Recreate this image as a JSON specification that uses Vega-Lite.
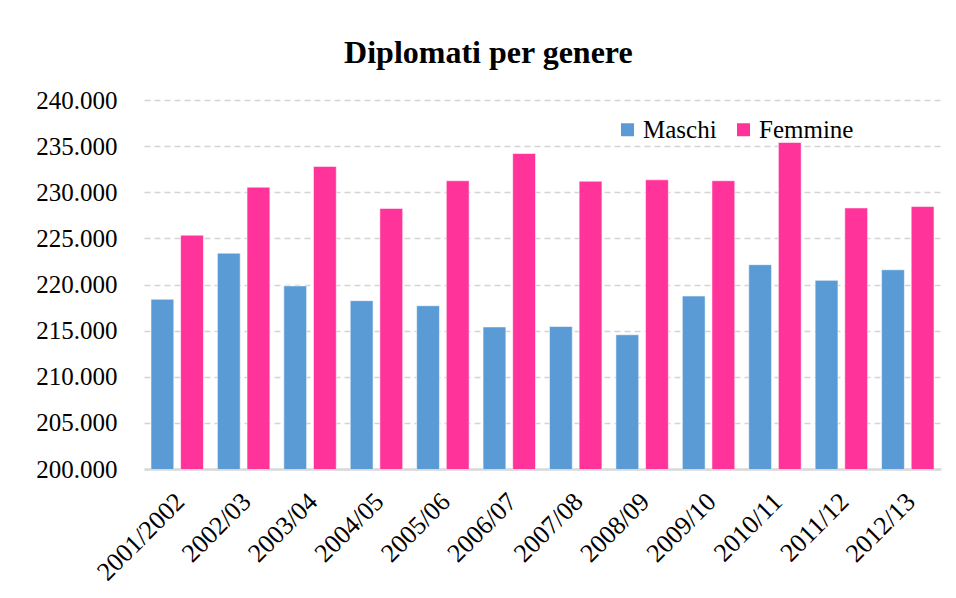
{
  "$schema": "https://vega.github.io/schema/vega-lite/v6.json",
  "width": 797,
  "height": 369,
  "autosize": {"type": "none"},
  "padding": {"left": 144, "top": 100, "right": 15, "bottom": 129},
  "background": "white",
  "title": {
    "text": "Diplomati per genere",
    "font": "Liberation Serif",
    "fontSize": 32,
    "fontWeight": "bold",
    "color": "#000000",
    "anchor": "middle",
    "frame": "bounds",
    "offset": 18
  },
  "data": {
    "values": [
      {"anno": "2001/2002", "genere": "Maschi", "valore": 218400},
      {"anno": "2001/2002", "genere": "Femmine", "valore": 225350},
      {"anno": "2002/03", "genere": "Maschi", "valore": 223400},
      {"anno": "2002/03", "genere": "Femmine", "valore": 230550},
      {"anno": "2003/04", "genere": "Maschi", "valore": 219850},
      {"anno": "2003/04", "genere": "Femmine", "valore": 232800},
      {"anno": "2004/05", "genere": "Maschi", "valore": 218250},
      {"anno": "2004/05", "genere": "Femmine", "valore": 228250},
      {"anno": "2005/06", "genere": "Maschi", "valore": 217700},
      {"anno": "2005/06", "genere": "Femmine", "valore": 231250},
      {"anno": "2006/07", "genere": "Maschi", "valore": 215400},
      {"anno": "2006/07", "genere": "Femmine", "valore": 234200},
      {"anno": "2007/08", "genere": "Maschi", "valore": 215450},
      {"anno": "2007/08", "genere": "Femmine", "valore": 231200},
      {"anno": "2008/09", "genere": "Maschi", "valore": 214550},
      {"anno": "2008/09", "genere": "Femmine", "valore": 231350},
      {"anno": "2009/10", "genere": "Maschi", "valore": 218750},
      {"anno": "2009/10", "genere": "Femmine", "valore": 231250},
      {"anno": "2010/11", "genere": "Maschi", "valore": 222150},
      {"anno": "2010/11", "genere": "Femmine", "valore": 235400},
      {"anno": "2011/12", "genere": "Maschi", "valore": 220450},
      {"anno": "2011/12", "genere": "Femmine", "valore": 228300},
      {"anno": "2012/13", "genere": "Maschi", "valore": 221600},
      {"anno": "2012/13", "genere": "Femmine", "valore": 228450}
    ]
  },
  "mark": {"type": "bar", "stroke": "white", "strokeOpacity": 0.55, "strokeWidth": 1, "clip": true},
  "encoding": {
    "x": {
      "field": "anno",
      "type": "nominal",
      "sort": null,
      "scale": {"paddingInner": 0.21, "paddingOuter": 0.105},
      "axis": {
        "title": null,
        "labelAngle": -45,
        "labelFont": "Liberation Serif",
        "labelFontSize": 26,
        "labelColor": "#000000",
        "labelPadding": 19,
        "labelOffset": -6,
        "ticks": false,
        "domainColor": "#d9d9d9",
        "domainWidth": 2.5,
        "grid": false
      }
    },
    "xOffset": {
      "field": "genere",
      "type": "nominal",
      "sort": ["Maschi", "Femmine"],
      "scale": {"paddingInner": 0.23}
    },
    "y": {
      "field": "valore",
      "type": "quantitative",
      "scale": {"domain": [200000, 240000], "zero": false, "nice": false},
      "axis": {
        "title": null,
        "values": [200000, 205000, 210000, 215000, 220000, 225000, 230000, 235000, 240000],
        "labelExpr": "replace(format(datum.value, ','), ',', '.')",
        "labelFont": "Liberation Serif",
        "labelFontSize": 25,
        "labelColor": "#000000",
        "labelPadding": 27,
        "ticks": false,
        "domain": false,
        "grid": true,
        "gridColor": "#d4d4d4",
        "gridWidth": 1.5,
        "gridDash": [6, 4]
      }
    },
    "color": {
      "field": "genere",
      "type": "nominal",
      "sort": ["Maschi", "Femmine"],
      "scale": {"domain": ["Maschi", "Femmine"], "range": ["#5B9BD5", "#FF3399"]},
      "legend": {
        "title": null,
        "orient": "none",
        "legendX": 471,
        "legendY": 17,
        "direction": "horizontal",
        "symbolType": "square",
        "symbolSize": 169,
        "symbolStrokeWidth": 0,
        "labelFont": "Liberation Serif",
        "labelFontSize": 25,
        "labelColor": "#000000",
        "labelOffset": 3,
        "columnPadding": 14
      }
    }
  },
  "config": {
    "view": {"stroke": null}
  }
}
